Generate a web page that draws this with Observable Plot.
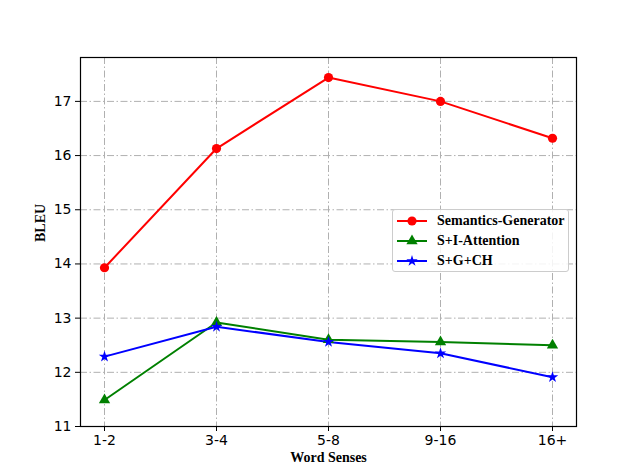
<!DOCTYPE html>
<html><head><meta charset="utf-8">
<script src="https://cdn.jsdelivr.net/npm/d3@7"></script>
<script src="https://cdn.jsdelivr.net/npm/@observablehq/plot@0.6"></script>
<style>
body{margin:0;background:#fff;}
#wrap{position:relative;width:640px;height:473px;}
#legend{position:absolute;left:392px;top:209px;width:177px;height:63px;border:1px solid #ccc;border-radius:3px;background:rgba(255,255,255,0.85);box-sizing:border-box;font:bold 14px "Liberation Serif","Times New Roman",serif;}
#legend .row{position:absolute;left:4px;height:20px;display:flex;align-items:center;}
#legend svg{margin-right:10px;}
</style>
</head><body>
<div id="wrap"></div>
<script>
const categories = ["1-2","3-4","5-8","9-16","16+"];
const seriesNames = ["Semantics-Generator","S+I-Attention","S+G+CH"];
const semanticsGenerator = [13.93, 16.13, 17.44, 17.00, 16.32];
const siAttention = [11.49, 12.92, 12.60, 12.56, 12.50];
const sgch = [12.29, 12.84, 12.56, 12.35, 11.91];
const yTicks = [11,12,13,14,15,16,17];
const colors = ["#ff0000","#008000","#0000ff"];
const symbols = ["circle","triangle","star"];

const seriesValues = [semanticsGenerator, siAttention, sgch];
const data = [];
seriesNames.forEach((s,i)=>categories.forEach((c,j)=>data.push({series:s, cat:c, value:seriesValues[i][j]})));

const grid = {stroke:"#b0b0b0", strokeOpacity:1, strokeWidth:1, strokeDasharray:"7,2.5,1.5,2.5"};
const tickFont = {fontSize:14, fontFamily:"DejaVu Sans, sans-serif"};
const labelFont = {fontWeight:"bold", fontFamily:"Liberation Serif, Times New Roman, serif", fontSize:14, fill:"#000"};

const plot = Plot.plot({
  width:640, height:473,
  marginLeft:80, marginRight:64, marginTop:57, marginBottom:47,
  style:{background:"#fff", color:"#000", overflow:"visible"},
  x:{type:"point", domain:categories, padding:0.2},
  y:{domain:[11,17.81]},
  color:{domain:seriesNames, range:colors},
  symbol:{domain:seriesNames, range:symbols},
  marks:[
    Plot.gridX(categories, grid),
    Plot.gridY(yTicks, grid),
    Plot.axisX({ticks:categories, label:null, tickSize:5, tickPadding:4, ...tickFont}),
    Plot.axisY({ticks:yTicks, tickFormat:d=>String(d), label:null, tickSize:5, tickPadding:4, ...tickFont}),
    Plot.line(data, {x:"cat", y:"value", z:"series", stroke:"series", strokeWidth:2}),
    Plot.dot(data.filter(d=>d.series===seriesNames[0]), {x:"cat", y:"value", fill:"series", symbol:"series", r:4.6, stroke:null}),
    Plot.dot(data.filter(d=>d.series===seriesNames[1]), {x:"cat", y:"value", fill:"series", symbol:"series", r:4.2, stroke:null}),
    Plot.dot(data.filter(d=>d.series===seriesNames[2]), {x:"cat", y:"value", fill:"series", symbol:"series", r:3.6, stroke:null}),
    Plot.frame({stroke:"#000", strokeWidth:1.2}),
    Plot.text(["BLEU"], {frameAnchor:"left", dx:-40, rotate:-90, text:d=>d, ...labelFont}),
    Plot.text(["Word Senses"], {frameAnchor:"bottom", dy:35, text:d=>d, ...labelFont})
  ]
});
const wrap = document.getElementById("wrap");
wrap.appendChild(plot);

// legend
const leg = document.createElement("div");
leg.id = "legend";
seriesNames.forEach((s,i)=>{
  const row = document.createElement("div");
  row.className = "row";
  row.style.top = (1 + i*20) + "px";
  const sw = d3.create("svg").attr("width",30).attr("height",14);
  sw.append("line").attr("x1",0).attr("x2",30).attr("y1",7).attr("y2",7).attr("stroke",colors[i]).attr("stroke-width",2);
  const symType = [d3.symbolCircle, d3.symbolTriangle, d3.symbolStar][i];
  const sizes = [66, 55, 40];
  sw.append("path").attr("transform","translate(15,7)").attr("d", d3.symbol(symType, sizes[i])()).attr("fill",colors[i]);
  row.appendChild(sw.node());
  const t = document.createElement("span");
  t.textContent = s;
  row.appendChild(t);
  leg.appendChild(row);
});
wrap.appendChild(leg);
</script>
</body></html>
